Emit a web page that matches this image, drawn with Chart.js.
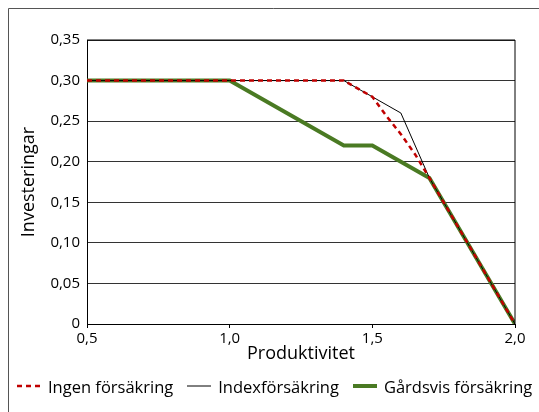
<!DOCTYPE html>
<html>
<head>
<meta charset="utf-8">
<script src="https://cdn.jsdelivr.net/npm/chart.js@4/dist/chart.umd.min.js"></script>
<style>
  html, body { margin: 0; padding: 0; background: #fff; }
  #wrap { position: relative; width: 539px; height: 412px; }
  #legend {
    position: absolute; left: 17px; top: 374px; height: 24px;
    display: flex; align-items: center;
    font-family: 'Open Sans', 'Noto Sans', sans-serif; font-size: 16.5px; color: #000;
    white-space: nowrap;
  }
  #legend .item { display: flex; align-items: center; margin-right: 14px; }
  #legend svg { margin-right: 7px; }
</style>
</head>
<body>
<div id="wrap">
  <canvas id="chart" width="539" height="412"></canvas>
  <div id="legend"></div>
</div>
<script>
// values
const ingenX = [0.5, 1.0, 1.4, 1.5, 1.55, 1.6, 1.65, 1.7, 2.0];
const ingenY = [0.30, 0.30, 0.30, 0.28, 0.256, 0.234, 0.209, 0.18, 0];

const indexX = [0.5, 1.0, 1.4, 1.6, 1.7, 2.0];
const indexY = [0.30, 0.30, 0.30, 0.26, 0.18, 0];

const gardX = [0.5, 1.0, 1.4, 1.5, 1.7, 2.0];
const gardY = [0.30, 0.30, 0.22, 0.22, 0.18, 0];

const seriesNames = ['Ingen försäkring', 'Indexförsäkring', 'Gårdsvis försäkring'];

const toPoints = (xs, ys) => xs.map((x, i) => ({ x: x, y: ys[i] }));
const comma = (v, d) => v.toFixed(d).replace('.', ',');

const FONT = "'Open Sans', 'Noto Sans', sans-serif";

// outer frame + top/right border of the plot area
const framePlugin = {
  id: 'frame',
  beforeDraw(chart) {
    const ctx = chart.ctx;
    ctx.save();
    ctx.strokeStyle = '#555';
    ctx.lineWidth = 1;
    ctx.beginPath();
    ctx.moveTo(8.5, 412);
    ctx.lineTo(8.5, 8.5);
    ctx.lineTo(539, 8.5);
    ctx.stroke();
    ctx.restore();
  },
  afterDatasetsDraw(chart) {
    const { ctx, chartArea: a } = chart;
    ctx.save();
    ctx.strokeStyle = '#000';
    ctx.lineWidth = 1;
    ctx.beginPath();
    ctx.moveTo(a.left, a.top);
    ctx.lineTo(a.right, a.top);
    ctx.lineTo(a.right, a.bottom);
    ctx.stroke();
    ctx.restore();
  }
};

const chart = new Chart(document.getElementById('chart'), {
  type: 'scatter',
  data: {
    datasets: [
      {
        label: seriesNames[0],
        data: toPoints(ingenX, ingenY),
        showLine: true,
        borderColor: '#c00000',
        backgroundColor: '#c00000',
        borderWidth: 2.5,
        borderDash: [5, 4],
        pointRadius: 0,
        order: 1
      },
      {
        label: seriesNames[1],
        data: toPoints(indexX, indexY),
        showLine: true,
        borderColor: '#000',
        backgroundColor: '#000',
        borderWidth: 1,
        pointRadius: 0,
        order: 2
      },
      {
        label: seriesNames[2],
        data: toPoints(gardX, gardY),
        showLine: true,
        borderColor: '#4a7a23',
        backgroundColor: '#4a7a23',
        borderWidth: 4,
        pointRadius: 0,
        order: 3
      }
    ]
  },
  options: {
    responsive: false,
    animation: false,
    layout: { padding: { left: 10, top: 40, right: 24, bottom: 42 } },
    plugins: {
      tooltip: { enabled: false },
      legend: { display: false }
    },
    scales: {
      x: {
        type: 'linear',
        min: 0.5,
        max: 2.0,
        afterFit: (s) => { s.height = 46; },
        ticks: {
          stepSize: 0.5,
          color: '#000',
          padding: 2,
          font: { family: FONT, size: 15 },
          callback: (v) => comma(v, 1)
        },
        grid: { drawOnChartArea: false, drawTicks: true, tickLength: 4, color: '#000' },
        border: { color: '#000', width: 1 },
        title: {
          display: true,
          text: 'Produktivitet',
          color: '#000',
          padding: { top: 0, bottom: 5 },
          font: { family: FONT, size: 18 }
        }
      },
      y: {
        min: 0,
        max: 0.35,
        afterFit: (s) => { s.width = 77; },
        ticks: {
          stepSize: 0.05,
          color: '#000',
          padding: 7,
          font: { family: FONT, size: 15 },
          callback: (v) => (v === 0 ? '0' : comma(v, 2))
        },
        grid: { color: '#333', lineWidth: 1, drawTicks: false },
        border: { color: '#000', width: 1 },
        title: {
          display: true,
          text: 'Investeringar',
          color: '#000',
          padding: { top: 8, bottom: 0 },
          font: { family: FONT, size: 18 }
        }
      }
    }
  },
  plugins: [framePlugin]
});

// legend built from the chart's datasets
const legend = document.getElementById('legend');
chart.data.datasets.forEach((ds) => {
  const item = document.createElement('span');
  item.className = 'item';
  const dash = ds.borderDash ? ds.borderDash.join(' ') : 'none';
  item.innerHTML =
    '<svg width="24" height="8"><line x1="0" y1="4" x2="24" y2="4" stroke="' + ds.borderColor +
    '" stroke-width="' + ds.borderWidth + '" stroke-dasharray="' + dash + '"/></svg>';
  const label = document.createElement('span');
  label.textContent = ds.label;
  item.appendChild(label);
  legend.appendChild(item);
});
</script>
</body>
</html>
